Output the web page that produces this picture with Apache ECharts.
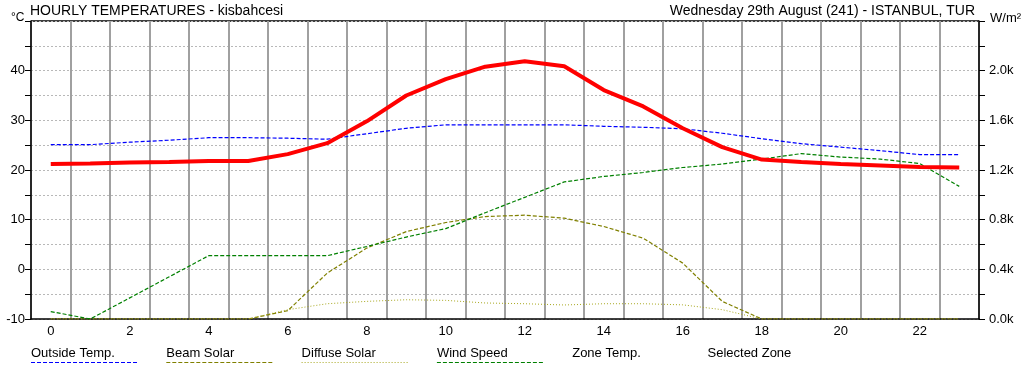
<!DOCTYPE html>
<html>
<head>
<meta charset="utf-8">
<script src="https://cdn.jsdelivr.net/npm/echarts@6/dist/echarts.min.js"></script>
<style>
  html, body { margin: 0; padding: 0; background: #fff; }
  #chart { width: 1030px; height: 367px; }
</style>
</head>
<body>
<div id="chart"></div>
<script>
const FONT = "Liberation Sans, Arial, sans-serif";
const GRID_GRAY = "#a0a0a0";
const DOT_GRAY = "#b8b8b8";

const hours = ["0","1","2","3","4","5","6","7","8","9","10","11","12","13","14","15","16","17","18","19","20","21","22","23"];

// left axis (°C)
const outsideTemp = [25.1, 25.1, 25.6, 26.0, 26.5, 26.5, 26.4, 26.2, 27.3, 28.4, 29.1, 29.1, 29.1, 29.1, 28.8, 28.6, 28.3, 27.4, 26.3, 25.3, 24.6, 23.9, 23.1, 23.1];
const zoneTemp = [21.2, 21.3, 21.5, 21.6, 21.8, 21.8, 23.2, 25.4, 29.8, 35.0, 38.3, 40.8, 41.9, 40.9, 36.1, 32.8, 28.4, 24.6, 22.1, 21.6, 21.2, 20.9, 20.6, 20.5];
const windSpeed = [-8.5, -10, -5.75, -1.5, 2.75, 2.75, 2.75, 2.75, 4.6, 6.5, 8.2, 11.4, 14.5, 17.6, 18.7, 19.5, 20.5, 21.2, 22.2, 23.3, 22.6, 22.2, 21.3, 16.7];

// right axis (W/m2)
const beamSolar = [0, 0, 0, 0, 0, 0, 67, 370, 571, 704, 777, 825, 836, 812, 745, 651, 450, 142, 0, 0, 0, 0, 0, 0];
const diffuseSolar = [0, 0, 0, 0, 0, 0, 75, 123, 142, 155, 150, 129, 123, 113, 123, 123, 114, 75, 0, 0, 0, 0, 0, 0];

const legendItems = [
  { name: "Outside Temp.", color: "#0000ff", dash: [4, 2] },
  { name: "Beam Solar", color: "#808000", dash: [4, 2] },
  { name: "Diffuse Solar", color: "#a8a820", dash: [1, 2] },
  { name: "Wind Speed", color: "#008000", dash: [4, 2] },
  { name: "Zone Temp.", color: null },
  { name: "Selected Zone", color: null },
];

const chart = echarts.init(document.getElementById("chart"), null, { renderer: "canvas" });

const legendGraphics = [];
legendItems.forEach((it, i) => {
  const x = 31 + i * 135.3;
  legendGraphics.push({
    type: "text", left: x, top: 347,
    style: { text: it.name, font: "13px " + FONT, fill: "#000" },
  });
  if (it.color) {
    legendGraphics.push({
      type: "line",
      shape: { x1: x, y1: 362.5, x2: x + 107, y2: 362.5 },
      style: { stroke: it.color, lineWidth: 1, lineDash: it.dash },
    });
  }
});

chart.setOption({
  animation: false,
  textStyle: { fontFamily: FONT },
  grid: { left: 31, right: 51, top: 21, bottom: 48, containLabel: false },
  xAxis: {
    type: "category",
    data: hours,
    boundaryGap: true,
    axisLine: { onZero: false, lineStyle: { color: "#000", width: 1.5 } },
    axisTick: { alignWithLabel: true, interval: 0, length: 5, lineStyle: { color: "#000" } },
    axisLabel: { interval: 1, color: "#000", fontSize: 13, margin: 6 },
    splitLine: { show: true, interval: 0, lineStyle: { color: GRID_GRAY, width: 2 } },
  },
  yAxis: [
    {
      type: "value", min: -10, max: 50, interval: 5,
      axisLine: { show: true, lineStyle: { color: "#000", width: 1.5 } },
      axisTick: { show: true, length: 6, lineStyle: { color: "#000" } },
      axisLabel: {
        color: "#000", fontSize: 13, margin: 6,
        formatter: (v) => (v % 10 === 0 && v < 50 ? String(v) : ""),
      },
      splitLine: { show: true, lineStyle: { color: DOT_GRAY, type: [2, 2], width: 1 } },
    },
    {
      type: "value", min: 0, max: 2400, interval: 200, position: "right",
      axisLine: { show: true, lineStyle: { color: "#000", width: 1.5 } },
      axisTick: { show: true, length: 6, lineStyle: { color: "#000" } },
      axisLabel: {
        color: "#000", fontSize: 13, margin: 10,
        formatter: (v) => (v % 400 === 0 && v < 2400 ? (v / 1000).toFixed(1) + "k" : ""),
      },
      splitLine: { show: false },
    },
  ],
  graphic: [
    { type: "line", shape: { x1: 31, y1: 21, x2: 979, y2: 21 }, style: { stroke: "#000", lineWidth: 1.5 } },
    { type: "text", left: 30, top: 4, style: { text: "HOURLY TEMPERATURES - kisbahcesi", font: "14px " + FONT, fill: "#000" } },
    { type: "text", right: 55, top: 4, style: { text: "Wednesday 29th August (241) - ISTANBUL, TUR", font: "14px " + FONT, fill: "#000" } },
    { type: "text", left: 11, top: 12, style: { text: "\u00b0C", font: "12px " + FONT, fill: "#000" } },
    { type: "text", left: 990, top: 12, style: { text: "W/m\u00b2", font: "13px " + FONT, fill: "#000" } },
    ...legendGraphics,
  ],
  series: [
    {
      name: "Outside Temp.", type: "line", data: outsideTemp, yAxisIndex: 0,
      symbol: "none", lineStyle: { color: "#0000ff", width: 1.2, type: [4, 2] }, z: 3,
    },
    {
      name: "Beam Solar", type: "line", data: beamSolar, yAxisIndex: 1,
      symbol: "none", lineStyle: { color: "#808000", width: 1.2, type: [4, 2] }, z: 3,
    },
    {
      name: "Diffuse Solar", type: "line", data: diffuseSolar, yAxisIndex: 1,
      symbol: "none", lineStyle: { color: "#a8a820", width: 1, type: [1, 2] }, z: 3,
    },
    {
      name: "Wind Speed", type: "line", data: windSpeed, yAxisIndex: 0,
      symbol: "none", lineStyle: { color: "#008000", width: 1.2, type: [4, 2] }, z: 3,
    },
    {
      name: "Selected Zone", type: "line", data: zoneTemp, yAxisIndex: 0,
      symbol: "none", lineStyle: { color: "#ff0000", width: 4 }, z: 4,
    },
  ],
});
</script>
</body>
</html>
